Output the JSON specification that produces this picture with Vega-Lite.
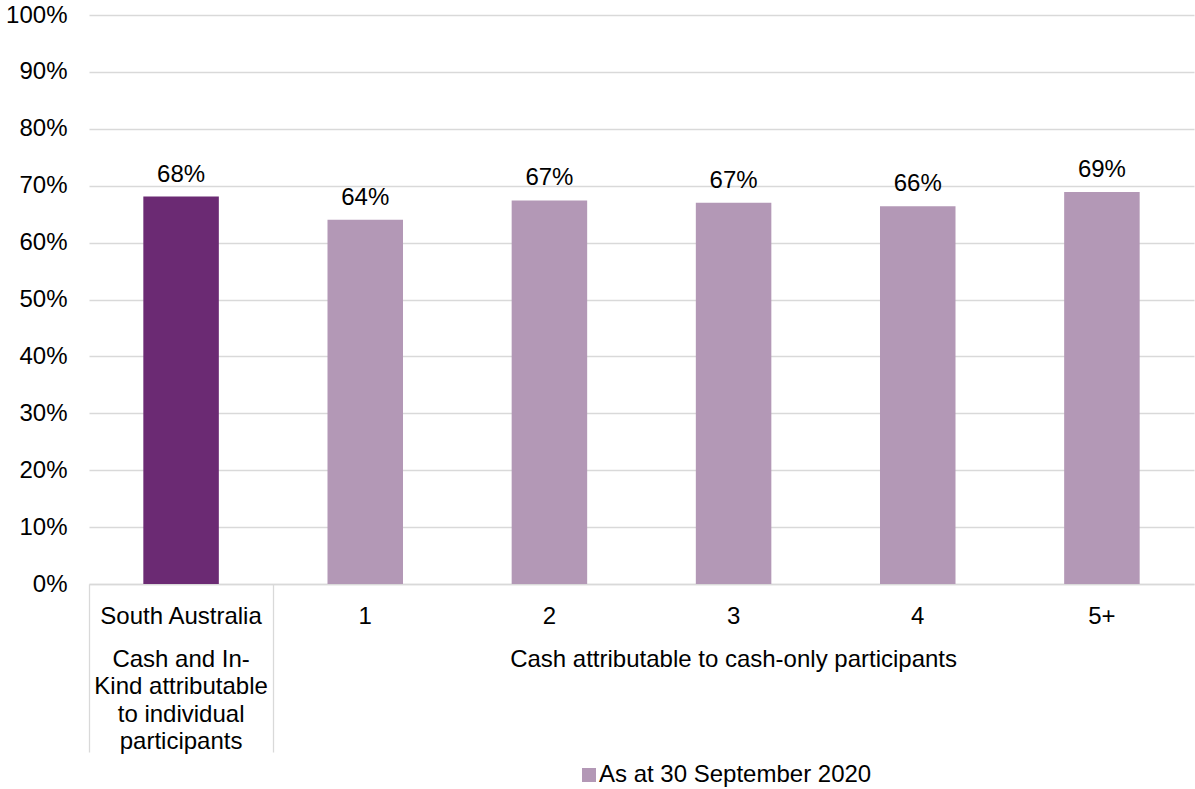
{
  "$schema": "https://vega.github.io/schema/vega-lite/v6.json",
  "autosize": {"type": "none"},
  "padding": {"left": 89, "top": 15, "right": 1, "bottom": 205},
  "width": 1105,
  "height": 569,
  "background": "white",
  "config": {
    "view": {"stroke": null},
    "font": "Liberation Sans",
    "axis": {"labelFont": "Liberation Sans", "labelColor": "#000000", "labelFontSize": 24},
    "legend": {"labelFont": "Liberation Sans"}
  },
  "data": {
    "values": [
      {"category": "South Australia", "value": 0.681, "series": "South Australia"},
      {"category": "1", "value": 0.640, "series": "As at 30 September 2020"},
      {"category": "2", "value": 0.674, "series": "As at 30 September 2020"},
      {"category": "3", "value": 0.670, "series": "As at 30 September 2020"},
      {"category": "4", "value": 0.664, "series": "As at 30 September 2020"},
      {"category": "5+", "value": 0.689, "series": "As at 30 September 2020"}
    ]
  },
  "encoding": {
    "y": {
      "field": "value",
      "type": "quantitative",
      "scale": {"domain": [0, 1], "nice": false},
      "axis": {
        "title": null,
        "values": [0, 0.1, 0.2, 0.3, 0.4, 0.5, 0.6, 0.7, 0.8, 0.9, 1],
        "format": ".0%",
        "domain": false,
        "ticks": false,
        "labelPadding": 22,
        "gridColor": "#d9d9d9",
        "gridWidth": 1.3
      }
    }
  },
  "layer": [
    {
      "mark": {"type": "bar"},
      "encoding": {
        "x": {
          "field": "category",
          "type": "nominal",
          "sort": null,
          "scale": {"paddingInner": 0.59, "paddingOuter": 0.295},
          "axis": {
            "title": null,
            "orient": "bottom",
            "labelAngle": 0,
            "ticks": false,
            "domain": true,
            "domainColor": "#d9d9d9",
            "domainWidth": 1.3,
            "labelPadding": 20,
            "labelLimit": 0
          }
        },
        "color": {
          "field": "series",
          "type": "nominal",
          "scale": {
            "domain": ["As at 30 September 2020", "South Australia"],
            "range": ["#b398b6", "#6b2a73"]
          },
          "legend": {
            "values": ["As at 30 September 2020"],
            "title": null,
            "orient": "none",
            "legendX": 488,
            "legendY": 748,
            "padding": 0,
            "symbolType": "square",
            "symbolSize": 196,
            "symbolStrokeWidth": 0,
            "labelFontSize": 24,
            "labelColor": "#000000",
            "labelOffset": -2,
            "labelLimit": 0
          }
        }
      }
    },
    {
      "mark": {"type": "text", "baseline": "alphabetic", "dy": -15, "fontSize": 24, "color": "#000000"},
      "encoding": {
        "x": {
          "field": "category",
          "type": "nominal",
          "sort": null,
          "axis": {
            "title": null,
            "orient": "bottom",
            "labelAngle": 0,
            "domain": false,
            "ticks": false,
            "labelPadding": 63,
            "labelLimit": 0,
            "labelOverlap": false,
            "labelBound": false,
            "labelFlush": false,
            "labelLineHeight": 27.6,
            "labelExpr": "datum.value === 'South Australia' ? ['Cash and In-', 'Kind attributable', 'to individual', 'participants'] : datum.value === '3' ? 'Cash attributable to cash-only participants' : ''"
          }
        },
        "text": {"field": "value", "type": "quantitative", "format": ".0%"}
      }
    },
    {
      "mark": {"type": "bar", "opacity": 0},
      "encoding": {
        "x": {
          "field": "category",
          "type": "nominal",
          "sort": null,
          "axis": {
            "title": null,
            "orient": "bottom",
            "labels": false,
            "domain": false,
            "ticks": true,
            "bandPosition": 0,
            "tickOffset": -54.3,
            "tickSize": 168,
            "tickColor": "#d9d9d9",
            "tickWidth": 1.3,
            "tickOpacity": {
              "condition": {"test": "datum.value === 'South Australia' || datum.value === '1'", "value": 1},
              "value": 0
            }
          }
        }
      }
    }
  ],
  "resolve": {"axis": {"x": "independent"}}
}
